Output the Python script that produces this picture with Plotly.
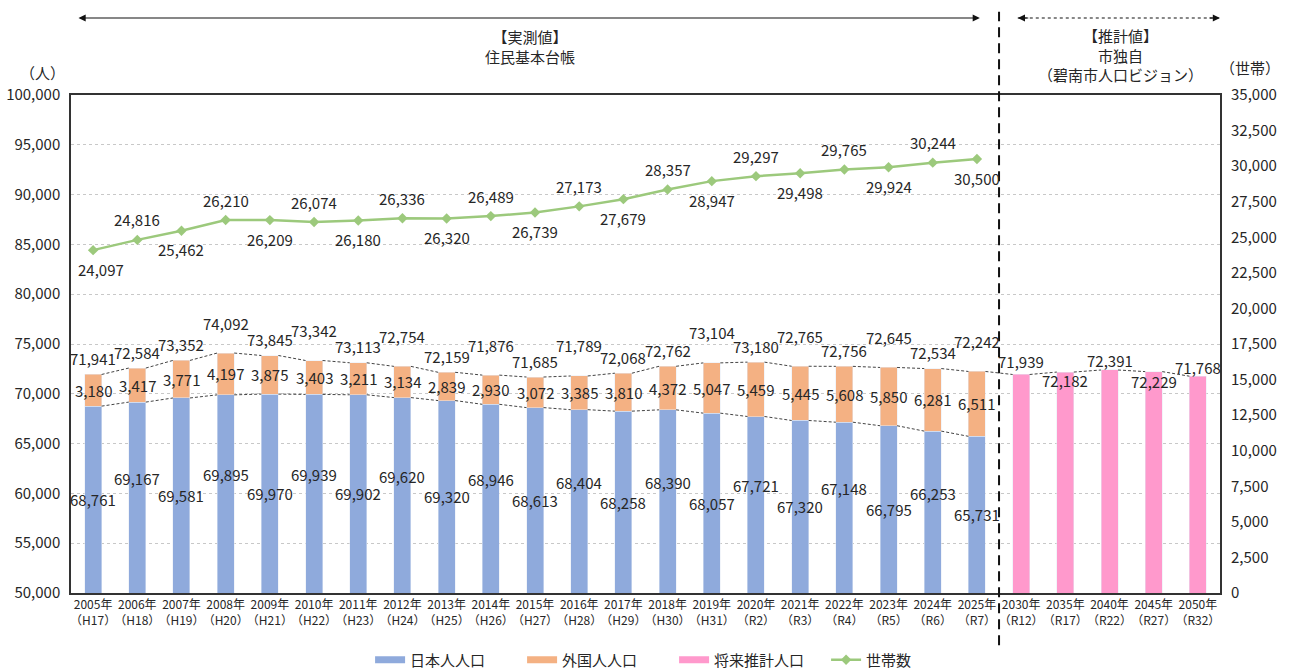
import plotly.graph_objects as go

# ---------------- data ----------------
years = ["2005年", "2006年", "2007年", "2008年", "2009年", "2010年", "2011年",
         "2012年", "2013年", "2014年", "2015年", "2016年", "2017年", "2018年",
         "2019年", "2020年", "2021年", "2022年", "2023年", "2024年", "2025年",
         "2030年", "2035年", "2040年", "2045年", "2050年"]
eras = ["H17", "H18", "H19", "H20", "H21", "H22", "H23", "H24", "H25", "H26",
        "H27", "H28", "H29", "H30", "H31", "R2", "R3", "R4", "R5", "R6", "R7",
        "R12", "R17", "R22", "R27", "R32"]

japanese = [68761, 69167, 69581, 69895, 69970, 69939, 69902, 69620, 69320, 68946,
            68613, 68404, 68258, 68390, 68057, 67721, 67320, 67148, 66795, 66253, 65731]
foreign = [3180, 3417, 3771, 4197, 3875, 3403, 3211, 3134, 2839, 2930,
           3072, 3385, 3810, 4372, 5047, 5459, 5445, 5608, 5850, 6281, 6511]
future = [71939, 72182, 72391, 72229, 71768]
households = [24097, 24816, 25462, 26210, 26209, 26074, 26180, 26336, 26320, 26489,
              26739, 27173, 27679, 28357, 28947, 29297, 29498, 29765, 29924, 30244, 30500]

# ---------------- style / layout constants ----------------
C_JP = "#8FAADC"
C_FR = "#F4B183"
C_FU = "#FF99CC"
C_HH = "#9CC97C"
TXT = "#262626"
FONT = "Noto Sans CJK JP"
BAR_W = 0.385
Y_MIN, Y_MAX = 50000, 100000
total_label_high = [0, 0, 0, 1, 0, 1, 0, 1, 0, 1, 0, 1, 0, 0, 1, 0, 1, 0, 1, 0, 1]
future_label_shift = [13, -8, 9, -10, 9]

n_act = len(japanese)
x_act = list(range(n_act))
x_fut = list(range(n_act, n_act + len(future)))
totals = [a + b for a, b in zip(japanese, foreign)]
ticktext = [f"{y}<br>（{e}）" for y, e in zip(years, eras)]

fig = go.Figure()

fig.add_trace(go.Bar(x=x_act, y=japanese, marker_color=C_JP, width=BAR_W,
                     name="日本人人口", showlegend=False, hoverinfo="y"))
fig.add_trace(go.Bar(x=x_act, y=foreign, marker_color=C_FR, width=BAR_W,
                     name="外国人人口", showlegend=False, hoverinfo="y"))
fig.add_trace(go.Bar(x=x_fut, y=future, marker_color=C_FU, width=BAR_W,
                     name="将来推計人口", showlegend=False, hoverinfo="y"))

# series lines connecting bar tops
def series_line(xs, tops):
    lx, ly = [], []
    for i in range(len(xs) - 1):
        lx += [xs[i] + BAR_W / 2, xs[i + 1] - BAR_W / 2, None]
        ly += [tops[i], tops[i + 1], None]
    return lx, ly

sx, sy = series_line(x_act + x_fut, totals + future)
fig.add_trace(go.Scatter(x=sx, y=sy, mode="lines", showlegend=False, hoverinfo="skip",
                         line=dict(color="#444444", width=1, dash="3px,2px")))
sx, sy = series_line(x_act, japanese)
fig.add_trace(go.Scatter(x=sx, y=sy, mode="lines", showlegend=False, hoverinfo="skip",
                         line=dict(color="#444444", width=1, dash="3px,2px")))

# legend-only entries
for nm, col in [("日本人人口", C_JP), ("外国人人口", C_FR), ("将来推計人口", C_FU)]:
    fig.add_trace(go.Scatter(x=[None], y=[None], mode="lines", name=nm,
                             line=dict(color=col, width=7)))

fig.add_trace(go.Scatter(x=x_act, y=households, yaxis="y2", mode="lines+markers",
                         name="世帯数", line=dict(color=C_HH, width=2.5),
                         marker=dict(symbol="diamond", size=8, color=C_HH)))

ann = []
lab_font = dict(family=FONT, size=15, color=TXT)
for i, x in enumerate(x_act):
    ann.append(dict(x=x, y=(Y_MIN + japanese[i]) / 2, xref="x", yref="y",
                    text=f"{japanese[i]:,}", showarrow=False, font=lab_font,
                    yshift=19 if i % 2 else 0))
    ann.append(dict(x=x, y=japanese[i] + foreign[i] / 2, xref="x", yref="y",
                    text=f"{foreign[i]:,}", showarrow=False, font=lab_font))
    ann.append(dict(x=x, y=totals[i], xref="x", yref="y", text=f"{totals[i]:,}",
                    showarrow=False, font=lab_font,
                    yshift=30 if total_label_high[i] else 16))
    ann.append(dict(x=x, y=households[i], xref="x", yref="y2",
                    text=f"{households[i]:,}", showarrow=False, font=lab_font,
                    yshift=20 if i % 2 else -19, xshift=8 if i == 0 else 0))
for j, x in enumerate(x_fut):
    ann.append(dict(x=x, y=future[j], xref="x", yref="y", text=f"{future[j]:,}",
                    showarrow=False, font=lab_font, yshift=future_label_shift[j]))

hdr_font = dict(family=FONT, size=15, color=TXT)
ann += [
    dict(x=0.3995, y=1.098, xref="paper", yref="paper", showarrow=False,
         xanchor="center", yanchor="middle",
         text="【実測値】<br>住民基本台帳", font=hdr_font),
    dict(x=0.913, y=1.080, xref="paper", yref="paper", showarrow=False,
         xanchor="center", yanchor="middle",
         text="【推計値】<br>市独自<br>（碧南市人口ビジョン）", font=hdr_font),
    dict(x=-0.025, y=1.046, xref="paper", yref="paper", showarrow=False,
         xanchor="center", yanchor="middle", text="（人）", font=hdr_font),
    dict(x=1.026, y=1.056, xref="paper", yref="paper", showarrow=False,
         xanchor="center", yanchor="middle", text="（世帯）", font=hdr_font),
    dict(x=0.791, y=1.1546, xref="x domain", yref="paper", ax=0.0052, ay=0,
         axref="x domain", ayref="pixel", text="", showarrow=True, arrowhead=2,
         arrowside="end+start", arrowsize=1.2, arrowwidth=1.2, arrowcolor="#111111"),
    dict(x=1.0, y=1.1546, xref="paper", yref="paper", ax=-12, ay=0, text="",
         showarrow=True, arrowhead=2, arrowsize=1.2, arrowwidth=1.2, arrowcolor="#111111"),
    dict(x=0.824, y=1.1546, xref="paper", yref="paper", ax=12, ay=0, text="",
         showarrow=True, arrowhead=2, arrowsize=1.2, arrowwidth=1.2, arrowcolor="#111111"),
]

shapes = [
    dict(type="line", xref="x", yref="paper", x0=n_act - 0.5, x1=n_act - 0.5,
         y0=-0.105, y1=1.167, line=dict(color="#111111", width=2, dash="10px,6px")),
    dict(type="line", xref="paper", yref="paper", x0=0.824, x1=1.0, y0=1.1546,
         y1=1.1546, line=dict(color="#111111", width=1.2, dash="3px,3px")),
]

fig.update_layout(
    width=1289, height=671,
    margin=dict(l=71, r=69, t=95, b=78),
    paper_bgcolor="white", plot_bgcolor="white",
    barmode="stack",
    font=dict(family=FONT, size=15, color=TXT),
    annotations=ann, shapes=shapes,
    xaxis=dict(range=[-0.5, len(years) - 0.5], tickmode="array",
               tickvals=list(range(len(years))), ticktext=ticktext,
               tickfont=dict(size=12, family=FONT, color=TXT), tickangle=0,
               automargin=False,
               showline=True, linecolor="#333333", linewidth=1.5, mirror=True,
               showgrid=False, zeroline=False, ticks=""),
    yaxis=dict(range=[Y_MIN, Y_MAX], dtick=5000, tickformat=",", automargin=False,
               tickfont=dict(size=15, family=FONT, color=TXT),
               showline=True, linecolor="#333333", linewidth=1.5, mirror=True,
               showgrid=True, gridcolor="#c8c8c8", griddash="3px,3px", gridwidth=1,
               zeroline=False, ticks="", ticklabelstandoff=6),
    yaxis2=dict(range=[0, 35000], dtick=2500, tickformat=",", overlaying="y",
                side="right", showgrid=False, zeroline=False, automargin=False,
                tickfont=dict(size=15, family=FONT, color=TXT),
                ticks="", ticklabelstandoff=10),
    legend=dict(orientation="h", x=0.2603, xanchor="left",
                y=0.0164, yref="container", yanchor="middle",
                font=dict(size=15, family=FONT, color=TXT),
                entrywidth=107, entrywidthmode="pixels", traceorder="normal"),
)

fig.write_html("out.html", config={"displayModeBar": False},
               post_script="document.body.style.margin='0';document.body.style.overflow='hidden';")
